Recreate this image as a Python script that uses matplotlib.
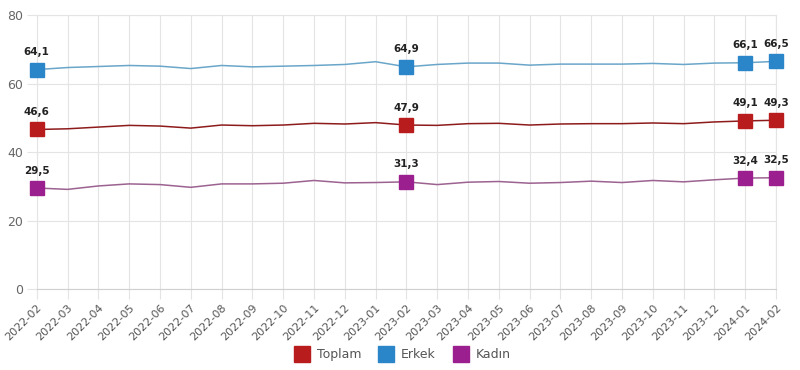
import matplotlib
matplotlib.use("Agg")
import matplotlib.pyplot as plt
from matplotlib.lines import Line2D

months = ['2022-02', '2022-03', '2022-04', '2022-05', '2022-06', '2022-07', '2022-08',
          '2022-09', '2022-10', '2022-11', '2022-12', '2023-01', '2023-02', '2023-03',
          '2023-04', '2023-05', '2023-06', '2023-07', '2023-08', '2023-09', '2023-10',
          '2023-11', '2023-12', '2024-01', '2024-02']

toplam = [46.6, 46.8, 47.3, 47.8, 47.6, 47.0, 47.9, 47.7, 47.9, 48.4, 48.2, 48.6, 47.9,
          47.8, 48.3, 48.4, 47.9, 48.2, 48.3, 48.3, 48.5, 48.3, 48.8, 49.1, 49.3]
erkek = [64.1, 64.7, 65.0, 65.3, 65.1, 64.4, 65.3, 64.9, 65.1, 65.3, 65.6, 66.4, 64.9,
         65.6, 66.0, 66.0, 65.4, 65.7, 65.7, 65.7, 65.9, 65.6, 66.0, 66.1, 66.5]
kadin = [29.5, 29.1, 30.1, 30.7, 30.5, 29.7, 30.7, 30.7, 30.9, 31.7, 31.0, 31.1, 31.3,
         30.5, 31.2, 31.4, 30.9, 31.1, 31.5, 31.1, 31.7, 31.3, 31.9, 32.4, 32.5]

# months that get a square marker and a value label
highlight = ['2022-02', '2023-02', '2024-01', '2024-02']

series = [
    ('Toplam', toplam, '#8e1b1b', '#b81c1c'),
    ('Erkek', erkek, '#6aa6c9', '#2b86c9'),
    ('Kadın', kadin, '#9c6290', '#9b1f8e'),
]

fig = plt.figure(figsize=(8, 3.7), dpi=100)
ax = fig.add_axes([0.046, 0.219, 0.924, 0.74])

x = list(range(len(months)))
for name, vals, lc, mc in series:
    ax.plot(x, vals, color=lc, lw=1.1, zorder=3)
    for m in highlight:
        i = months.index(m)
        ax.plot(i, vals[i], marker='s', ms=10, color=mc, mec=mc, zorder=4, clip_on=False)
        ax.annotate(f'{vals[i]:.1f}'.replace('.', ','), (i, vals[i]),
                    xytext=(0, 9), textcoords='offset points', ha='center',
                    va='bottom', fontsize=7.5, fontweight='bold', color='#222222',
                    annotation_clip=False)

ax.set_xlim(0, len(months) - 1)
ax.set_ylim(0, 80)
ax.set_yticks([0, 20, 40, 60, 80])
ax.set_xticks(x)
ax.set_xticklabels(months, rotation=45, ha='right', rotation_mode='anchor',
                   fontsize=8, color='#555555')
ax.tick_params(axis='y', labelsize=9, labelcolor='#666666', length=7, color='#e4e4e4', pad=3)
ax.tick_params(axis='x', length=7, color='#e4e4e4', pad=3)
ax.grid(True, color='#e4e4e4', lw=0.8)
ax.set_axisbelow(True)
for s in ax.spines.values():
    s.set_color('#e4e4e4')
    s.set_linewidth(0.8)
ax.spines['bottom'].set_color('#d0d0d0')

handles = [Line2D([], [], ls='none', marker='s', ms=11, color=mc) for _, _, _, mc in series]
fig.legend(handles, [s[0] for s in series], loc='center', bbox_to_anchor=(0.5, 0.042),
           ncol=3, frameon=False, fontsize=9, handletextpad=0.2, columnspacing=1.0,
           labelcolor='#555555')

fig.savefig('out.png', dpi=100)
